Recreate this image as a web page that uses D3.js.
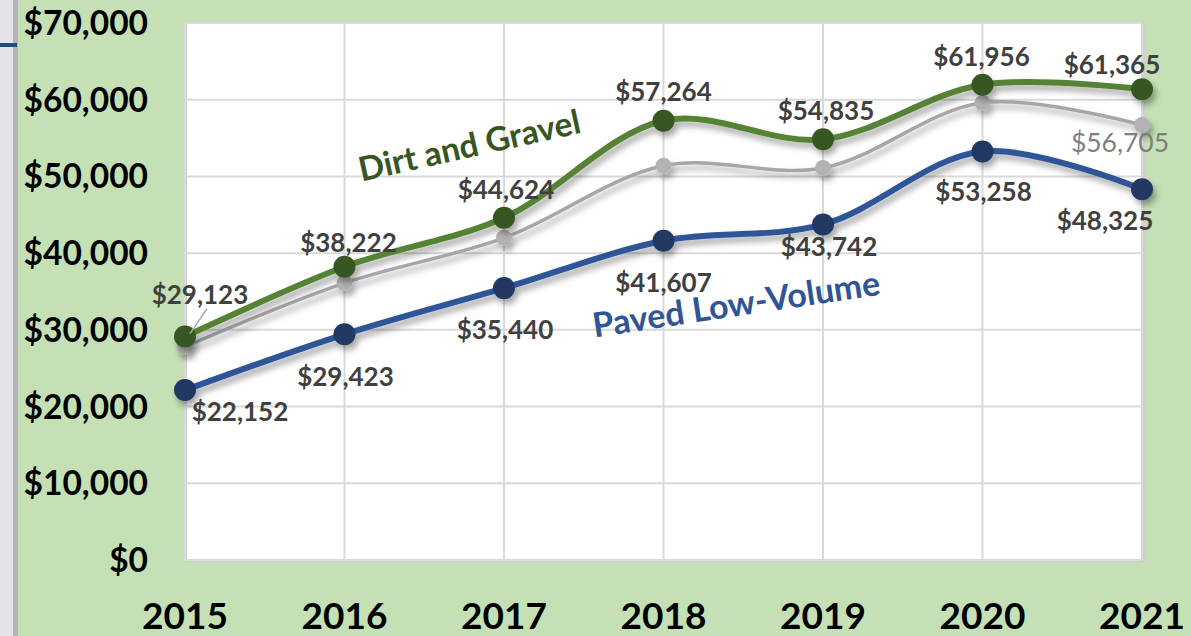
<!DOCTYPE html>
<html>
<head>
<meta charset="utf-8">
<script src="https://cdn.jsdelivr.net/npm/d3@7"></script>
<style>
  html, body { margin: 0; padding: 0; background: #c5e0b4; }
  svg { display: block; font-family: Lato, "Open Sans", sans-serif; }
</style>
</head>
<body>
<div id="chart"></div>
<script>
const width = 1191;
const height = 636;
const margins = { top: 23, left: 185, bottom: 76, right: 49 };

// data
const years = ['2015', '2016', '2017', '2018', '2019', '2020', '2021'];
const dirtGravel = [29123, 38222, 44624, 57264, 54835, 61956, 61365];
const pavedLowVolume = [22152, 29423, 35440, 41607, 43742, 53258, 48325];
const grayAverage = [27800, 36100, 42000, 51400, 51100, 59600, 56705];
const yTicks = [0, 10000, 20000, 30000, 40000, 50000, 60000, 70000];

// label offsets (dx, dy) from each point
const greenOffsets = [[15, -42], [4, -24], [2, -28], [0, -29], [3, -29], [-1, -28], [-30, -25]];
const blueOffsets = [[55, 22], [1, 42], [1, 42], [0, 42], [6, 22], [1, 40], [-37, 31]];

const svg = d3.select('#chart')
    .append('svg')
    .attr('width', width)
    .attr('height', height);

const defs = svg.append('defs');
const shadow = defs.append('filter')
    .attr('id', 'shadow')
    .attr('x', '-10%').attr('y', '-10%')
    .attr('width', '120%').attr('height', '130%');
shadow.append('feDropShadow')
    .attr('dx', 3).attr('dy', 5)
    .attr('stdDeviation', 3)
    .attr('flood-color', '#000')
    .attr('flood-opacity', 0.35);

// window edge strip on the left
svg.append('rect').attr('x', 0).attr('y', 0).attr('width', 13).attr('height', height).attr('fill', '#e2e4e9');
svg.append('rect').attr('x', 13).attr('y', 0).attr('width', 5).attr('height', height).attr('fill', '#b4b5ba');
svg.append('rect').attr('x', 0).attr('y', 43).attr('width', 17).attr('height', 4).attr('fill', '#1f4e79');

const x = d3.scalePoint()
    .domain(years)
    .range([margins.left, width - margins.right]);

const y = d3.scaleLinear()
    .domain([0, 70000])
    .range([height - margins.bottom, margins.top]);

// plot area
svg.append('rect')
    .attr('x', margins.left + 1)
    .attr('y', margins.top)
    .attr('width', width - margins.right - margins.left + 1)
    .attr('height', height - margins.bottom - margins.top + 1)
    .attr('fill', '#fff')
    .attr('stroke', '#cfcfcf')
    .attr('stroke-width', 2);

// gridlines
svg.append('g')
    .selectAll('line')
    .data(yTicks)
    .enter()
    .append('line')
    .attr('x1', margins.left)
    .attr('x2', width - margins.right)
    .attr('y1', d => y(d))
    .attr('y2', d => y(d))
    .attr('stroke', '#d9d9d9')
    .attr('stroke-width', 2);

svg.append('g')
    .selectAll('line')
    .data(years)
    .enter()
    .append('line')
    .attr('x1', d => x(d))
    .attr('x2', d => x(d))
    .attr('y1', margins.top)
    .attr('y2', height - margins.bottom)
    .attr('stroke', '#d9d9d9')
    .attr('stroke-width', 2);

// axes labels
svg.append('g')
    .selectAll('text')
    .data(yTicks)
    .enter()
    .append('text')
    .attr('x', 148)
    .attr('y', d => y(d))
    .attr('dy', '0.36em')
    .attr('text-anchor', 'end')
    .attr('font-size', 33.5)
    .attr('font-weight', 'bold')
    .attr('fill', '#000')
    .text(d => d3.format('$,')(d));

svg.append('g')
    .selectAll('text')
    .data(years)
    .enter()
    .append('text')
    .attr('x', d => x(d))
    .attr('y', 629)
    .attr('text-anchor', 'middle')
    .attr('font-size', 37)
    .attr('font-weight', 'bold')
    .attr('fill', '#000')
    .text(d => d);

const line = d3.line()
    .x((d, i) => x(years[i]))
    .y(d => y(d))
    .curve(d3.curveCatmullRom.alpha(0.5));

const series = [
    { values: grayAverage, stroke: '#a6a6a6', fill: '#b3b3b3', width: 3.5, r: 8 },
    { values: dirtGravel, stroke: '#548235', fill: '#375623', width: 6, r: 11 },
    { values: pavedLowVolume, stroke: '#2f5597', fill: '#203864', width: 6, r: 11 }
];

series.forEach(s => {
    const g = svg.append('g').attr('filter', 'url(#shadow)');
    g.append('path')
        .datum(s.values)
        .attr('d', line)
        .attr('fill', 'none')
        .attr('stroke', s.stroke)
        .attr('stroke-width', s.width);
    g.selectAll('circle')
        .data(s.values)
        .enter()
        .append('circle')
        .attr('cx', (d, i) => x(years[i]))
        .attr('cy', d => y(d))
        .attr('r', s.r)
        .attr('fill', s.fill);
});

// leader line for first green label
svg.append('line')
    .attr('x1', x(years[0]) + 22).attr('y1', y(dirtGravel[0]) - 28)
    .attr('x2', x(years[0]) + 5).attr('y2', y(dirtGravel[0]) - 3)
    .attr('stroke', '#a6a6a6')
    .attr('stroke-width', 1.5);

// data labels
const fmt = d3.format('$,');
const labelGroup = svg.append('g')
    .attr('font-size', 26)
    .attr('font-weight', 'bold')
    .attr('fill', '#404040')
    .attr('text-anchor', 'middle');

labelGroup.selectAll('.green')
    .data(dirtGravel)
    .enter()
    .append('text')
    .attr('class', 'green')
    .attr('x', (d, i) => x(years[i]) + greenOffsets[i][0])
    .attr('y', (d, i) => y(d) + greenOffsets[i][1])
    .attr('dy', '0.36em')
    .text(d => fmt(d));

labelGroup.selectAll('.blue')
    .data(pavedLowVolume)
    .enter()
    .append('text')
    .attr('class', 'blue')
    .attr('x', (d, i) => x(years[i]) + blueOffsets[i][0])
    .attr('y', (d, i) => y(d) + blueOffsets[i][1])
    .attr('dy', '0.36em')
    .text(d => fmt(d));

const lastGray = grayAverage[grayAverage.length - 1];
svg.append('text')
    .attr('x', x(years[6]) - 22)
    .attr('y', y(lastGray) + 17)
    .attr('dy', '0.36em')
    .attr('text-anchor', 'middle')
    .attr('font-size', 26.5)
    .attr('fill', '#7f7f7f')
    .text(fmt(lastGray));

// series annotations
svg.append('text')
    .attr('transform', 'translate(472,157) rotate(-12.5)')
    .attr('text-anchor', 'middle')
    .attr('font-size', 33.5)
    .attr('font-weight', 'bold')
    .attr('fill', '#375623')
    .text('Dirt and Gravel');

svg.append('text')
    .attr('transform', 'translate(738,316) rotate(-8.5)')
    .attr('text-anchor', 'middle')
    .attr('font-size', 34)
    .attr('font-weight', 'bold')
    .attr('fill', '#2f5597')
    .text('Paved Low-Volume');
</script>
</body>
</html>
